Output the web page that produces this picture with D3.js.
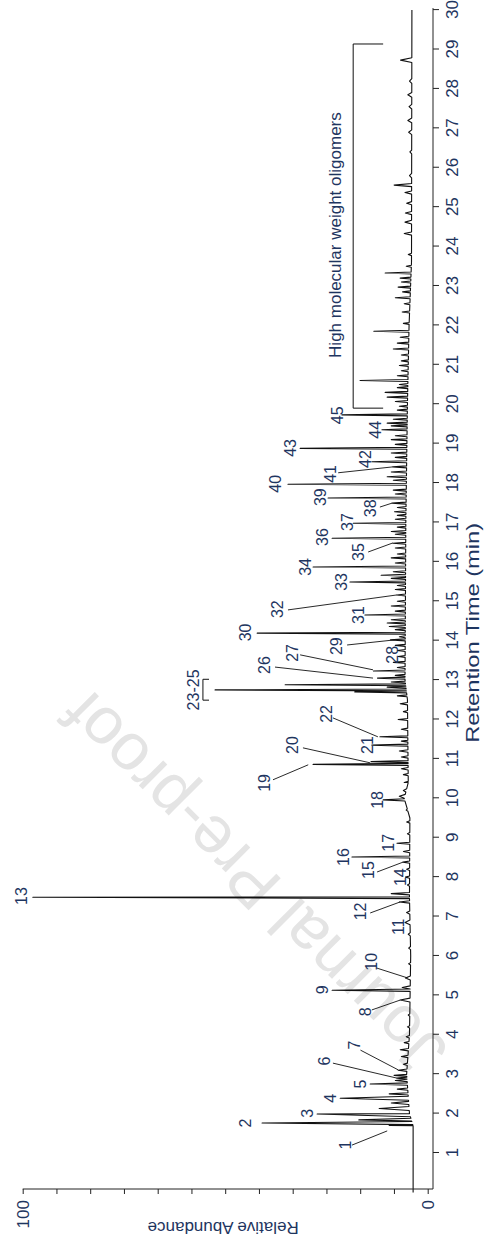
<!DOCTYPE html>
<html>
<head>
<meta charset="utf-8">
<script src="https://cdn.jsdelivr.net/npm/d3@7"></script>
<style>
  body { margin: 0; background: #fff; }
  text { font-family: "Liberation Sans", Arial, sans-serif; }
</style>
</head>
<body>
<div id="chart"></div>
<script>
// ---- data (retention time in min, relative abundance in %) ----
const peakTimes = [1.70, 1.76, 1.84, 1.99, 2.13, 2.27, 2.39, 2.50, 2.62, 2.75, 2.84, 2.90, 2.97, 3.10, 3.25, 3.45, 3.62, 3.80, 3.95, 4.20, 4.50, 4.88, 5.13, 5.20, 5.44, 5.80, 6.20, 6.55, 6.85, 7.10, 7.37, 7.49, 7.58, 7.80, 8.00, 8.20, 8.38, 8.51, 8.65, 8.86, 9.10, 9.40, 9.70, 9.96, 10.05, 10.20, 10.40, 10.60, 10.75, 10.86, 10.93, 11.05, 11.20, 11.35, 11.45, 11.56, 11.75, 12.00, 12.20, 12.40, 12.60, 12.70, 12.75, 12.82, 12.88, 12.95, 13.05, 13.12, 13.23, 13.32, 13.45, 13.60, 13.75, 13.88, 14.02, 14.10, 14.19, 14.28, 14.36, 14.45, 14.53, 14.65, 14.75, 14.88, 15.00, 15.16, 15.30, 15.40, 15.49, 15.58, 15.66, 15.75, 15.87, 15.97, 16.10, 16.20, 16.35, 16.47, 16.60, 16.70, 16.77, 16.88, 16.98, 17.08, 17.18, 17.27, 17.38, 17.49, 17.62, 17.72, 17.82, 17.97, 18.07, 18.16, 18.28, 18.41, 18.54, 18.65, 18.76, 18.88, 18.98, 19.10, 19.20, 19.35, 19.45, 19.52, 19.62, 19.73, 19.85, 19.95, 20.07, 20.18, 20.30, 20.42, 20.50, 20.60, 20.72, 20.85, 20.98, 21.10, 21.25, 21.40, 21.55, 21.70, 21.85, 22.05, 22.34, 22.55, 22.70, 22.85, 22.97, 23.10, 23.20, 23.33, 23.50, 23.80, 24.33, 24.62, 24.85, 25.10, 25.37, 25.56, 25.80, 26.40, 26.90, 27.20, 27.55, 27.85, 28.20, 28.73];
const peakHeights = [9.5, 40.9, 17, 27.3, 12, 9, 21.6, 9.5, 7.5, 14.2, 8, 7.6, 8.3, 7.3, 6, 6.5, 6.8, 5.8, 5.3, 5, 4.8, 6.8, 23.6, 6.3, 5.5, 4.7, 4.7, 4.8, 5.6, 5.2, 7, 97.5, 9, 5, 5.5, 5.2, 6.1, 18.7, 6, 7.6, 5, 5.2, 5.3, 11, 7, 6, 5.8, 6, 6.5, 28.3, 14, 6.5, 7, 13.8, 6.5, 11.8, 6.5, 7.3, 6, 6.8, 7.5, 18, 52.5, 10, 35.2, 9, 12.4, 8, 13.4, 7.5, 8.5, 7.3, 7.5, 8, 9.2, 7, 42.1, 8, 9.5, 10, 9, 15.5, 8, 9, 7.5, 7.6, 8, 7.5, 19.2, 9, 11.5, 8.5, 28.3, 8, 9, 7.5, 8, 8.6, 23.6, 8, 9, 7.5, 18.4, 8, 7.5, 8.2, 7.5, 8.8, 24.6, 8, 8.5, 34.5, 8.5, 10, 9, 8.6, 13.8, 8, 9, 31.5, 8, 9, 8, 11.3, 9, 10, 8.5, 21.2, 7.5, 7, 8, 10, 10.5, 7.5, 7, 16.7, 7.5, 6.5, 7, 6.5, 6.5, 8.5, 7.5, 6.8, 13.3, 6, 6.3, 5.8, 8, 6.2, 7.3, 6.5, 6.8, 10.5, 5.3, 4.8, 5.8, 5.6, 5.5, 5.2, 5.6, 8.3, 4.5, 4.4, 4.7, 4.9, 4.6, 4.9, 4.5, 6.7];
const peakWidths = [0.02, 0.05, 0.04, 0.07, 0.05, 0.04, 0.05, 0.03, 0.03, 0.03, 0.03, 0.025, 0.025, 0.03, 0.03, 0.03, 0.03, 0.03, 0.03, 0.03, 0.03, 0.05, 0.03, 0.04, 0.05, 0.03, 0.04, 0.04, 0.06, 0.04, 0.03, 0.035, 0.03, 0.03, 0.03, 0.03, 0.03, 0.025, 0.03, 0.025, 0.03, 0.03, 0.03, 0.03, 0.05, 0.04, 0.03, 0.03, 0.03, 0.025, 0.025, 0.03, 0.03, 0.025, 0.025, 0.025, 0.03, 0.025, 0.03, 0.03, 0.025, 0.024, 0.024, 0.024, 0.024, 0.024, 0.025, 0.025, 0.025, 0.025, 0.025, 0.025, 0.025, 0.025, 0.025, 0.025, 0.025, 0.025, 0.025, 0.025, 0.025, 0.025, 0.025, 0.025, 0.025, 0.025, 0.025, 0.025, 0.025, 0.025, 0.025, 0.025, 0.025, 0.025, 0.025, 0.025, 0.025, 0.025, 0.025, 0.025, 0.025, 0.025, 0.025, 0.025, 0.025, 0.025, 0.025, 0.025, 0.025, 0.025, 0.025, 0.025, 0.025, 0.025, 0.025, 0.025, 0.025, 0.025, 0.025, 0.025, 0.025, 0.025, 0.025, 0.025, 0.025, 0.025, 0.025, 0.025, 0.025, 0.025, 0.025, 0.025, 0.025, 0.025, 0.025, 0.025, 0.025, 0.025, 0.025, 0.025, 0.025, 0.025, 0.025, 0.025, 0.025, 0.025, 0.025, 0.025, 0.025, 0.025, 0.025, 0.025, 0.025, 0.025, 0.025, 0.03, 0.04, 0.05, 0.04, 0.04, 0.04, 0.04, 0.06, 0.05, 0.06, 0.06, 0.06, 0.06, 0.06, 0.06, 0.07];

const baseTimes = [0, 1.69, 2.0, 3.0, 4.0, 6.0, 7.5, 9.5, 10.0, 10.4, 12.5, 13.0, 17.0, 20.0, 22.0, 23.6, 30];
const baseLevels = [3.6, 3.6, 4.5, 5.2, 4.5, 4.2, 4.5, 4.4, 5.8, 4.8, 5.0, 5.6, 5.4, 5.0, 4.6, 4.0, 3.9];

const labelTexts = ["1", "2", "3", "4", "5", "6", "7", "8", "9", "10", "11", "12", "13", "14", "15", "16", "17", "18", "19", "20", "21", "22", "23-25", "26", "27", "28", "29", "30", "31", "32", "33", "34", "35", "36", "37", "38", "39", "40", "41", "42", "43", "44", "45"];
const labelTimes = [1.20, 1.76, 2.01, 2.39, 2.75, 3.33, 3.74, 4.58, 5.14, 5.85, 6.74, 7.13, 7.52, 8.00, 8.18, 8.51, 8.87, 9.96, 10.39, 11.35, 11.35, 12.14, 12.75, 13.38, 13.69, 13.64, 13.86, 14.21, 14.65, 14.80, 15.49, 15.87, 16.25, 16.63, 17.01, 17.36, 17.64, 17.98, 18.23, 18.61, 18.89, 19.35, 19.72];
const labelAbund = [20.4, 45.1, 29.6, 24.1, 16.7, 25.4, 18.0, 15.5, 26.1, 14.0, 7.3, 16.7, 100.2, 6.8, 14.7, 20.9, 9.8, 12.5, 40.2, 33.3, 15.0, 25.1, 57.9, 40.2, 33.3, 8.6, 22.6, 44.9, 17.2, 37.0, 21.2, 30.3, 17.2, 25.9, 19.9, 14.2, 26.6, 37.7, 24.1, 15.5, 34.0, 13.0, 22.4];

// leader lines: [time, abundance] at label end and at peak end
const leaderFrom = [[1.20, 18.7], [3.28, 23.4], [3.61, 16.6], [4.63, 13.8], [5.69, 12.5], [7.09, 14.2], [8.13, 12.5], [10.47, 38.2], [11.28, 30.8], [12.04, 23.4], [13.33, 37.7], [13.64, 31.5], [13.89, 19.9], [14.78, 34.5], [16.25, 14.7], [17.39, 11.8], [18.26, 22.1]];
const leaderTo = [[1.56, 10.0], [2.90, 7.6], [3.11, 7.3], [4.88, 6.8], [5.44, 4.9], [7.37, 6.8], [8.38, 6.1], [10.85, 29.5], [10.90, 14.2], [11.56, 12.3], [13.05, 13.5], [13.26, 13.5], [14.02, 8.1], [15.16, 7.6], [16.48, 8.6], [17.49, 8.8], [18.41, 8.6]];

// brackets: [start time, end time, line abundance, foot abundance]
const groupBracket = [12.49, 13.02, 55.5, 54.0];
const oligoBracket = [19.9, 29.14, 18.4, 11.0];
const oligoLabel = "High molecular weight oligomers";

const timeTicks = [1, 2, 3, 4, 5, 6, 7, 8, 9, 10, 11, 12, 13, 14, 15, 16, 17, 18, 19, 20, 21, 22, 23, 24, 25, 26, 27, 28, 29, 30];
const abundTicks = [0, 8.333, 16.667, 25, 33.333, 41.667, 50, 58.333, 66.667, 75, 83.333, 91.667, 100];
const abundTickLabels = [0, 100];

// ---- layout ----
const width = 485, height = 1246;
const X0 = 22.7, Y0 = 1192.4;   // screen position of (t=0, a=100)
const W = 1182.3, H = 405;      // time length, abundance length
const textColor = "#1e3560";

const svg = d3.select("#chart").append("svg")
  .attr("width", width)
  .attr("height", height)
  .style("background", "#fff");

// watermark
svg.append("text")
  .attr("transform", "translate(254,884) rotate(-135)")
  .attr("text-anchor", "middle")
  .attr("dy", "0.35em")
  .attr("font-size", 66)
  .attr("fill", "#e4e4e4")
  .text("Journal Pre-proof");

// whole chart is drawn in normal orientation, then turned a quarter turn
const g = svg.append("g")
  .attr("transform", `translate(${X0},${Y0}) rotate(-90)`);

const x = d3.scaleLinear().domain([0, 30]).range([0, W]);
const y = d3.scaleLinear().domain([0, 100]).range([H, 0]);
const base = d3.scaleLinear().domain(baseTimes).range(baseLevels);

// trace
let pts = baseTimes.map(t => [t, base(t)]);
peakTimes.forEach((t, i) => {
  const w = peakWidths[i];
  pts.push([t - w, base(t - w)], [t, peakHeights[i]], [t + w, base(t + w)]);
});
pts.sort((a, b) => a[0] - b[0]);

g.append("path")
  .datum(pts)
  .attr("fill", "none")
  .attr("stroke", "#111")
  .attr("stroke-width", 1.1)
  .attr("stroke-linejoin", "round")
  .attr("d", d3.line().x(d => x(d[0])).y(d => y(d[1])));

// leaders
g.selectAll("line.leader")
  .data(leaderFrom)
  .enter()
  .append("line")
  .attr("class", "leader")
  .attr("x1", d => x(d[0]))
  .attr("y1", d => y(d[1]))
  .attr("x2", (d, i) => x(leaderTo[i][0]))
  .attr("y2", (d, i) => y(leaderTo[i][1]))
  .attr("stroke", "#111")
  .attr("stroke-width", 0.9);

// brackets
function bracket(b) {
  const p = d3.path();
  p.moveTo(x(b[0]), y(b[3]));
  p.lineTo(x(b[0]), y(b[2]));
  p.lineTo(x(b[1]), y(b[2]));
  p.lineTo(x(b[1]), y(b[3]));
  g.append("path")
    .attr("d", p.toString())
    .attr("fill", "none")
    .attr("stroke", "#111")
    .attr("stroke-width", 1);
}
bracket(groupBracket);
bracket(oligoBracket);

g.append("text")
  .attr("x", x((oligoBracket[0] + oligoBracket[1]) / 2) - 9)
  .attr("y", y(oligoBracket[2]) - 18)
  .attr("text-anchor", "middle")
  .attr("dy", "0.35em")
  .attr("font-size", 17)
  .attr("fill", textColor)
  .text(oligoLabel);

// peak labels
g.selectAll("text.peak")
  .data(labelTexts)
  .enter()
  .append("text")
  .attr("class", "peak")
  .attr("x", (d, i) => x(labelTimes[i]))
  .attr("y", (d, i) => y(labelAbund[i]))
  .attr("dy", "0.35em")
  .attr("text-anchor", "middle")
  .attr("font-size", 16)
  .attr("fill", textColor)
  .text(d => d);

// time axis
const cornerU = 3.4;
const xAxis = g.append("g")
  .attr("transform", `translate(0,${H + 5.3})`)
  .call(d3.axisBottom(x).tickValues(timeTicks).tickSize(6).tickPadding(7).tickSizeOuter(0));
xAxis.select(".domain").attr("d", `M${cornerU},0H${W + 2}`);
xAxis.selectAll("text").attr("font-size", 17).attr("fill", textColor).attr("font-family", null);
xAxis.selectAll("line, .domain").attr("stroke", "#222");

// abundance axis
const yAxis = g.append("g")
  .attr("transform", `translate(${cornerU},0)`)
  .call(d3.axisLeft(y).tickValues(abundTicks).tickSize(5).tickPadding(6).tickSizeOuter(0)
    .tickFormat(d => abundTickLabels.includes(d) ? d : ""));
yAxis.select(".domain").attr("d", `M0,0V${H + 5.3}`);
yAxis.selectAll("text").attr("font-size", 17).attr("fill", textColor).attr("font-family", null);
yAxis.selectAll("line, .domain").attr("stroke", "#222");

// axis titles
g.append("text")
  .attr("transform", `translate(${cornerU - 39},${H / 2 - 2}) rotate(-90)`)
  .attr("text-anchor", "middle")
  .attr("dy", "0.35em")
  .attr("font-size", 17)
  .attr("fill", textColor)
  .text("Relative Abundance");

g.append("text")
  .attr("x", x(14.2))
  .attr("y", H + 5.3 + 40)
  .attr("text-anchor", "middle")
  .attr("dy", "0.35em")
  .attr("font-size", 18)
  .attr("textLength", 220)
  .attr("lengthAdjust", "spacingAndGlyphs")
  .attr("fill", textColor)
  .text("Retention Time (min)");
</script>
</body>
</html>
